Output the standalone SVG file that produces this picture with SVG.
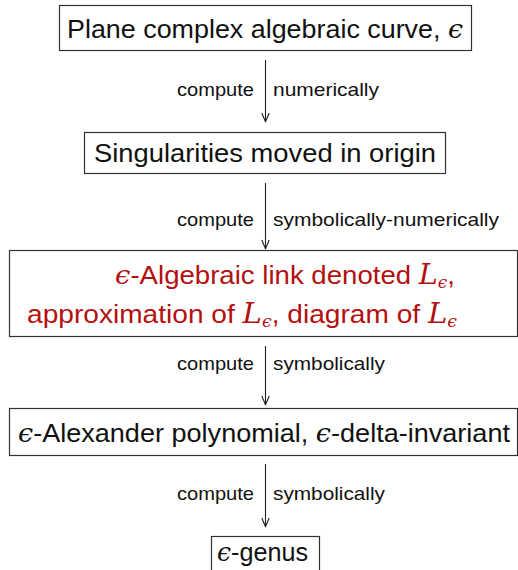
<svg xmlns="http://www.w3.org/2000/svg" width="518" height="570" viewBox="0 0 518 570">
<style>
.box{fill:#fff;stroke:#333;stroke-width:1.2}
.main{font-family:"Liberation Sans",Arial,sans-serif;font-size:26px;fill:#111}
.red{fill:#b31010}
.lbl{font-family:"Liberation Sans",Arial,sans-serif;font-size:19px;fill:#111}
.m{font-family:"DejaVu Serif","Liberation Serif",serif;font-style:italic;font-weight:normal}
.e{font-family:"Liberation Serif","DejaVu Serif",serif;font-style:italic}
.edge{stroke:#222;stroke-width:1.1;fill:none}
</style>
<defs>
<marker id="ah" markerWidth="12" markerHeight="12" viewBox="-10 -6 12 12" refX="0" refY="0" orient="auto" markerUnits="userSpaceOnUse">
<path d="M-9,-3.6 C-5,-2.4 -2.5,-0.6 0,0 C-2.5,0.6 -5,2.4 -9,3.6" fill="none" stroke="#222" stroke-width="1.1"/>
</marker>
</defs>
<g id="connectors">
<path class="edge" d="M265.5,60 V122" marker-end="url(#ah)"/>
<path class="edge" d="M265.5,183 V249" marker-end="url(#ah)"/>
<path class="edge" d="M265.5,346 V405" marker-end="url(#ah)"/>
<path class="edge" d="M265.5,464 V527" marker-end="url(#ah)"/>
<text class="lbl" x="254" y="96" text-anchor="end" textLength="77" lengthAdjust="spacingAndGlyphs">compute</text>
<text class="lbl" x="273" y="96" textLength="106" lengthAdjust="spacingAndGlyphs">numerically</text>
<text class="lbl" x="254" y="226" text-anchor="end" textLength="77" lengthAdjust="spacingAndGlyphs">compute</text>
<text class="lbl" x="273" y="226" textLength="226" lengthAdjust="spacingAndGlyphs">symbolically-numerically</text>
<text class="lbl" x="254" y="370" text-anchor="end" textLength="77" lengthAdjust="spacingAndGlyphs">compute</text>
<text class="lbl" x="273" y="370" textLength="112" lengthAdjust="spacingAndGlyphs">symbolically</text>
<text class="lbl" x="254" y="500" text-anchor="end" textLength="77" lengthAdjust="spacingAndGlyphs">compute</text>
<text class="lbl" x="273" y="500" textLength="112" lengthAdjust="spacingAndGlyphs">symbolically</text>
</g>
<g id="n1">
<rect class="box" x="59.5" y="5.5" width="412" height="45"/>
<text class="main" x="67" y="38" textLength="396" lengthAdjust="spacingAndGlyphs">Plane complex algebraic curve, <tspan class="m">ϵ</tspan></text>
</g>
<g id="n2">
<rect class="box" x="84.5" y="132.5" width="361" height="41"/>
<text class="main" x="94" y="162" textLength="342" lengthAdjust="spacingAndGlyphs">Singularities moved in origin</text>
</g>
<g id="n3">
<rect class="box" x="9.5" y="250.5" width="508" height="86"/>
<text class="main red" x="115" y="284" textLength="340" lengthAdjust="spacingAndGlyphs"><tspan class="m">ϵ</tspan>-Algebraic link denoted <tspan class="m" font-size="27">L</tspan><tspan class="m" font-size="16" dy="4">ϵ</tspan><tspan dy="-4">,</tspan></text>
<text class="main red" x="27" y="323" textLength="430" lengthAdjust="spacingAndGlyphs">approximation of <tspan class="m" font-size="27">L</tspan><tspan class="m" font-size="16" dy="4">ϵ</tspan><tspan dy="-4">, diagram of </tspan><tspan class="m" font-size="27">L</tspan><tspan class="m" font-size="16" dy="4">ϵ</tspan></text>
</g>
<g id="n4">
<rect class="box" x="9.5" y="408.5" width="508" height="47"/>
<text class="main" x="18" y="442" textLength="492" lengthAdjust="spacingAndGlyphs"><tspan class="m">ϵ</tspan>-Alexander polynomial, <tspan class="m">ϵ</tspan>-delta-invariant</text>
</g>
<g id="n5">
<rect class="box" x="211.5" y="536.5" width="108" height="40"/>
<text class="main" x="217" y="561" textLength="91" lengthAdjust="spacingAndGlyphs"><tspan class="m">ϵ</tspan>-genus</text>
</g>
</svg>
